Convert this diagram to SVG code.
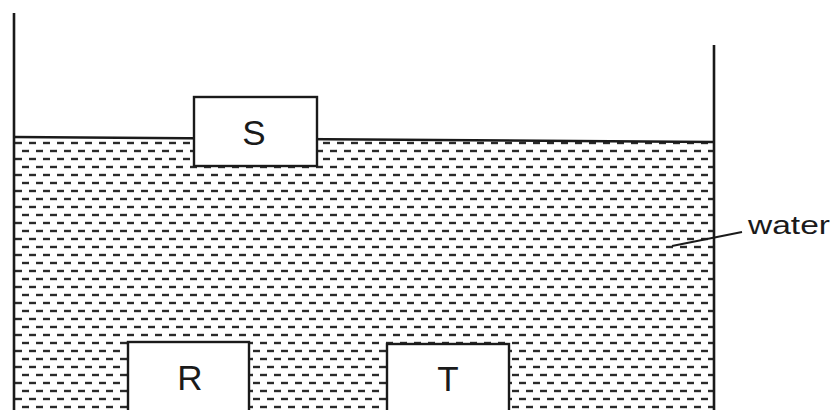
<svg xmlns="http://www.w3.org/2000/svg" width="835" height="410" viewBox="0 0 835 410">
  <style>
    .wall { stroke: #1a1a1a; stroke-width: 2.6; fill: none; }
    .box { fill: #fff; stroke: #1a1a1a; stroke-width: 2.4; }
    .lbl { font-family: "Liberation Sans", Arial, sans-serif; font-size: 35px; fill: #1a1a1a; text-anchor: middle; }
    .dash { stroke: #2a2a2a; stroke-width: 2.4; }
  </style>
  <defs>
    <pattern id="waterPat" patternUnits="userSpaceOnUse" x="0" y="139" width="14" height="16">
      <line class="dash" x1="1" y1="4" x2="8" y2="4"/>
      <line class="dash" x1="8" y1="12" x2="15" y2="12"/>
      <line class="dash" x1="-6" y1="12" x2="1" y2="12"/>
    </pattern>
  </defs>
  <rect width="835" height="410" fill="#fff"/>
  <g id="water">
    <polygon points="14,137 714,142 714,410 14,410" fill="url(#waterPat)"/>
    <line class="wall" x1="14" y1="137" x2="714" y2="142" stroke-width="2.2"/>
  </g>
  <g id="container">
    <line class="wall" x1="14" y1="13" x2="14" y2="410"/>
    <line class="wall" x1="714" y1="45" x2="714" y2="410"/>
  </g>
  <g id="S">
    <rect class="box" x="194" y="97" width="123" height="69"/>
    <text class="lbl" x="254" y="145">S</text>
  </g>
  <g id="R">
    <rect class="box" x="128" y="342" width="121" height="75"/>
    <text class="lbl" x="190" y="390">R</text>
  </g>
  <g id="T">
    <rect class="box" x="387" y="344" width="122" height="75"/>
    <text class="lbl" x="448" y="391">T</text>
  </g>
  <g id="connectors">
    <line x1="672" y1="246" x2="742" y2="232" stroke="#1a1a1a" stroke-width="1.8"/>
  </g>
  <g id="label-water">
    <text x="748" y="234" font-family="Liberation Sans, Arial, sans-serif" font-size="25" fill="#1a1a1a" textLength="82" lengthAdjust="spacingAndGlyphs">water</text>
  </g>
</svg>
